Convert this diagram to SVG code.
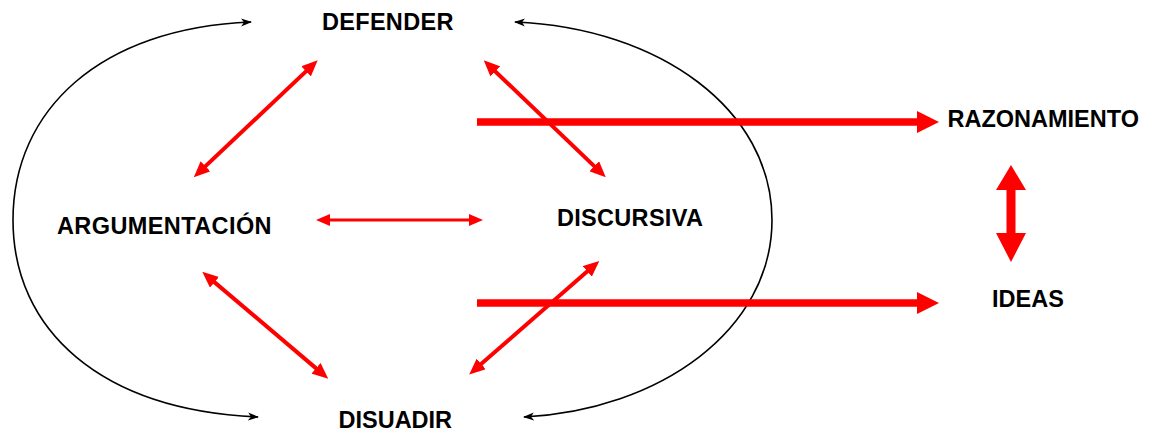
<svg xmlns="http://www.w3.org/2000/svg" width="1152" height="432" viewBox="0 0 1152 432">
  <style>
    .lbl { font-family: "Liberation Sans", Arial, sans-serif; font-weight: bold; font-size: 23.5px; fill: #000000; }
    .arc { fill: none; stroke: #000000; stroke-width: 1.6; }
    .red { fill: none; stroke: #FF0000; stroke-width: 4; }
    .redthin { fill: none; stroke: #FF0000; stroke-width: 3; }
    .thick { fill: #FF0000; stroke: none; }
  </style>
  <defs>
    <marker id="redHead" markerUnits="userSpaceOnUse" markerWidth="16" markerHeight="14" viewBox="0 0 16 14" refX="9" refY="7" orient="auto-start-reverse">
      <path d="M0,0 L16,7 L0,14 z" fill="#FF0000"/>
    </marker>
    <marker id="redHeadSmall" markerUnits="userSpaceOnUse" markerWidth="14" markerHeight="12" viewBox="0 0 14 12" refX="8" refY="6" orient="auto-start-reverse">
      <path d="M0,0 L14,6 L0,12 z" fill="#FF0000"/>
    </marker>
    <marker id="blackHead" markerUnits="userSpaceOnUse" markerWidth="11" markerHeight="9" viewBox="0 0 11 9" refX="10" refY="4.5" orient="auto-start-reverse">
      <path d="M0,0.5 L11,4.5 L0,8.5 L3,4.5 z" fill="#000000"/>
    </marker>
  </defs>

  <g id="connectors">
    <path class="arc" d="M251,22 C100,28 13,110 13,220 C13,330 100,410 258,417" marker-start="url(#blackHead)" marker-end="url(#blackHead)"/>
    <path class="arc" d="M515,22 C660,28 772,110 772,220 C772,330 660,410 524,417" marker-start="url(#blackHead)" marker-end="url(#blackHead)"/>

    <line class="red" x1="312.6" y1="65.1" x2="198.9" y2="172.4" marker-start="url(#redHead)" marker-end="url(#redHead)"/>
    <line class="red" x1="488.8" y1="65.2" x2="600.7" y2="172.4" marker-start="url(#redHead)" marker-end="url(#redHead)"/>
    <line class="redthin" x1="322" y1="220" x2="477" y2="220" marker-start="url(#redHeadSmall)" marker-end="url(#redHeadSmall)"/>
    <line class="red" x1="207.6" y1="276.4" x2="322.9" y2="374.1" marker-start="url(#redHead)" marker-end="url(#redHead)"/>
    <line class="red" x1="594" y1="265.5" x2="474.5" y2="369.8" marker-start="url(#redHead)" marker-end="url(#redHead)"/>

    <polygon class="thick" points="477,118.2 917,118.2 917,111 939,122 917,133 917,125.8 477,125.8"/>
    <polygon class="thick" points="477,299.2 917,299.2 917,292 939,303 917,314 917,306.8 477,306.8"/>
    <polygon class="thick" points="1006.5,190 996,190 1011,165 1026,190 1015.5,190 1015.5,233 1026,233 1011,262 996,233 1006.5,233"/>
  </g>

  <g id="node-defender"><text class="lbl" x="322" y="29.5" letter-spacing="0.3">DEFENDER</text></g>
  <g id="node-argumentacion"><text class="lbl" x="57" y="234" letter-spacing="0.4">ARGUMENTACIÓN</text></g>
  <g id="node-discursiva"><text class="lbl" x="557" y="225.5" letter-spacing="0.3">DISCURSIVA</text></g>
  <g id="node-disuadir"><text class="lbl" x="338.5" y="428">DISUADIR</text></g>
  <g id="node-razonamiento"><text class="lbl" x="947.5" y="126.5">RAZONAMIENTO</text></g>
  <g id="node-ideas"><text class="lbl" x="992" y="306.5">IDEAS</text></g>
</svg>
